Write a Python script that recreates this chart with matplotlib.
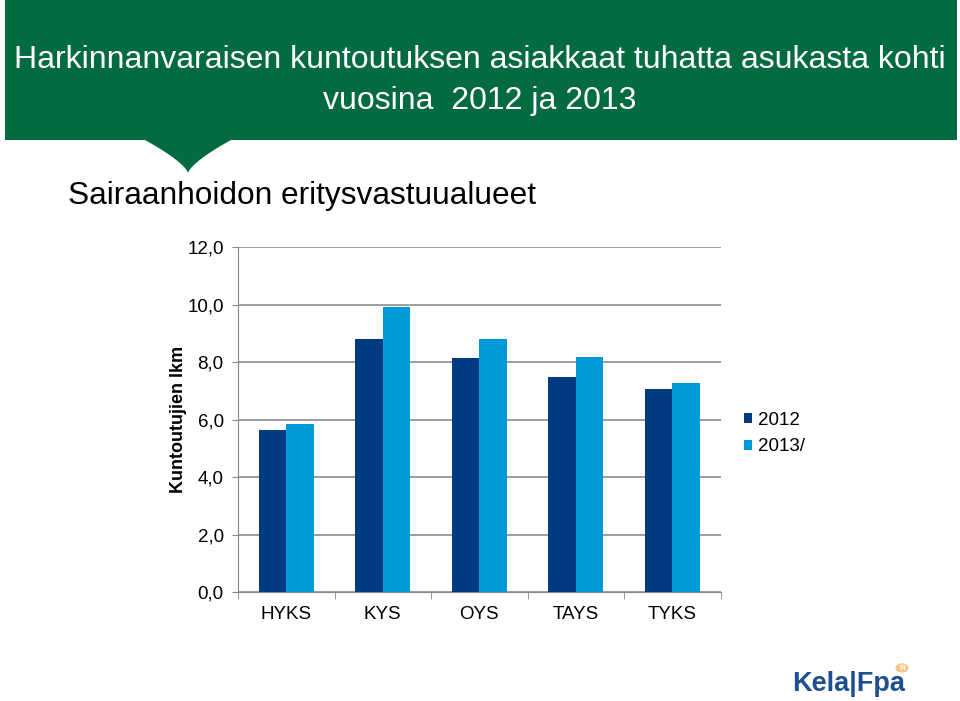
import numpy as np
import matplotlib.pyplot as plt
from matplotlib.patches import Rectangle, Polygon, Circle

categories = ['HYKS', 'KYS', 'OYS', 'TAYS', 'TYKS']
v2012 = [5.65, 8.79, 8.14, 7.48, 7.08]
v2013 = [5.84, 9.93, 8.81, 8.17, 7.27]
series_names = ['2012', '2013/']
yticks = [0, 2, 4, 6, 8, 10, 12]

plt.rcParams['font.family'] = ['Liberation Sans', 'DejaVu Sans']

fig = plt.figure(figsize=(9.6, 7.01), dpi=100)

W, H = 960, 701
def fx(x):
    return x / W
def fy(y):
    return 1 - y / H

# green header band with a pointed callout below it
green = '#036b3f'
fig.patches.append(Rectangle((fx(5), fy(140)), fx(952), 140 / H, transform=fig.transFigure,
                             facecolor=green, edgecolor='none', zorder=0))
s = np.linspace(0, 1, 40)
f = 1 - (1 - s) ** 1.4
left = [(143 + 45 * a, 139 + 34 * b) for a, b in zip(f, s)]
right = [(233 - 45 * a, 139 + 34 * b) for a, b in zip(f[::-1], s[::-1])]
pts = [(fx(x), fy(y)) for x, y in left + right]
fig.patches.append(Polygon(pts, closed=True, transform=fig.transFigure,
                           facecolor=green, edgecolor='none', zorder=0))

fig.text(0.5, fy(60), 'Harkinnanvaraisen kuntoutuksen asiakkaat tuhatta asukasta kohti',
         ha='center', va='center', color='white', fontsize=23)
fig.text(0.5, fy(101), 'vuosina  2012 ja 2013', ha='center', va='center', color='white',
         fontsize=23)
fig.text(fx(68), fy(196), 'Sairaanhoidon eritysvastuualueet', ha='left', va='center',
         color='black', fontsize=22.8)

ax = fig.add_axes([238 / W, 1 - 592.3 / H, (720.7 - 238) / W, (592.3 - 247) / H])
x = np.arange(len(categories))
w = 1 / 3.5
ax.bar(x - w / 2, v2012, w, color='#003a80', label=series_names[0], zorder=3)
ax.bar(x + w / 2, v2013, w, color='#0099da', label=series_names[1], zorder=3)

ax.set_xlim(-0.5, len(categories) - 0.5)
ax.set_ylim(0, 12)
ax.set_yticks(yticks)
ax.set_yticklabels([f'{v:.1f}'.replace('.', ',') for v in yticks], fontsize=13.5)
ax.set_xticks(x)
ax.set_xticklabels(categories, fontsize=13.5)
ax.set_xticks(np.arange(len(categories) + 1) - 0.5, minor=True)
ax.tick_params(axis='x', which='major', length=0, pad=10)
ax.tick_params(axis='x', which='minor', length=5, color='#888888', direction='out')
ax.tick_params(axis='y', length=4.3, color='#888888', direction='out', pad=6)
ax.yaxis.grid(True, color='#8c8c8c', linewidth=1.2, zorder=0)
ax.set_axisbelow(True)
for sp in ['top', 'right']:
    ax.spines[sp].set_visible(False)
ax.spines['left'].set_color('#888888')
ax.spines['bottom'].set_color('#888888')
ax.set_ylabel('Kuntoutujien lkm', fontsize=13, fontweight='bold', labelpad=0)

fig.legend(loc='upper left', bbox_to_anchor=(fx(727), fy(395)), frameon=False,
           fontsize=13.5, handlelength=0.45, handleheight=0.45, handletextpad=0.3,
           labelspacing=0.5)

# logo
fig.text(fx(792), fy(684), 'Kela|Fpa', ha='left', va='center', color='#1f4f91',
         fontsize=19.5, fontweight='bold')
fig.patches.append(Circle((fx(902), fy(668)), 6.5 / W, transform=fig.transFigure,
                          facecolor='#f7c68a', edgecolor='none'))
fig.text(fx(902), fy(668), 'R', ha='center', va='center', color='white', fontsize=6,
         fontweight='bold')

fig.savefig('out.png', dpi=100)
